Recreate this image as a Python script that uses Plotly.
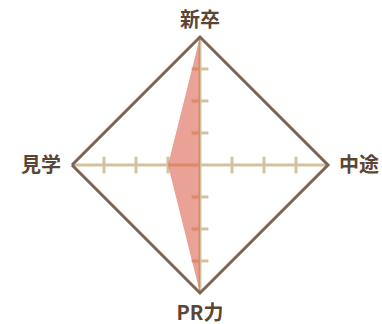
import plotly.graph_objects as go

categories = ["新卒", "中途", "PR力", "見学"]
values = [4, 0, 4, 1]
tick_values = [1, 2, 3]
r_max = 4

TAN = "#d2c39c"
BROWN = "#7b6552"
TEXT = "#5b4535"
FILL = "rgba(222,100,80,0.6)"

W, H = 382, 324
cx, cy, R = 200, 165, 128

# side labels sit a little further from the outline than the top/bottom ones
NB = "\u00a0"
label_text = [categories[0], NB + categories[1], categories[2], categories[3] + NB]

fig = go.Figure()

# tick marks on each spoke
for cat in categories:
    sym = "line-ew" if cat in ("新卒", "PR力") else "line-ns"
    fig.add_trace(go.Scatterpolar(
        r=tick_values, theta=[cat] * len(tick_values), mode="markers",
        marker=dict(symbol=sym, size=12, line=dict(color=TAN, width=3)),
        hoverinfo="skip", showlegend=False,
    ))

fig.add_trace(go.Scatterpolar(
    r=values + [values[0]], theta=categories + [categories[0]],
    mode="lines", fill="toself", fillcolor=FILL,
    line=dict(width=0, color="rgba(0,0,0,0)"),
    showlegend=False,
))

fig.update_layout(
    width=W, height=H,
    margin=dict(l=0, r=0, t=0, b=0),
    paper_bgcolor="white",
    polar=dict(
        domain=dict(x=[(cx - R) / W, (cx + R) / W],
                    y=[1 - (cy + R) / H, 1 - (cy - R) / H]),
        bgcolor="rgba(0,0,0,0)",
        gridshape="linear",
        radialaxis=dict(range=[0, r_max], visible=False, showgrid=False),
        angularaxis=dict(
            rotation=90, direction="clockwise",
            categoryorder="array", categoryarray=categories,
            tickmode="array", tickvals=categories, ticktext=label_text,
            showline=True, linecolor=BROWN, linewidth=3,
            showgrid=True, gridcolor=TAN, gridwidth=3,
            ticks="outside", ticklen=1, tickcolor="rgba(0,0,0,0)",
            tickfont=dict(family="Noto Sans CJK JP", size=20, color=TEXT, weight="bold"),
        ),
    ),
)

fig.write_html("out.html", config={"displayModeBar": False},
               post_script="document.body.style.margin='0px';")
